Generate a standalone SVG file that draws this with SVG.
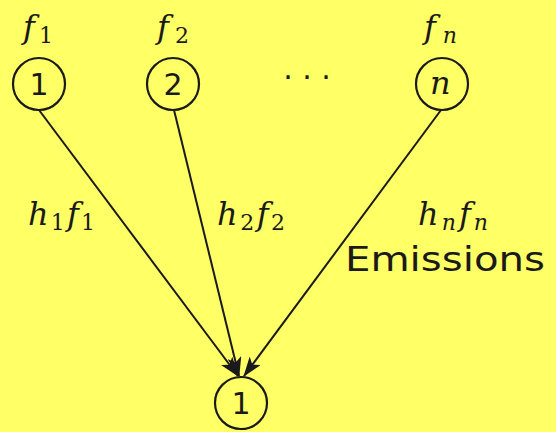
<svg xmlns="http://www.w3.org/2000/svg" width="556" height="432" viewBox="0 0 556 432">
<style>
.node{fill:none;stroke:#1a1a1a;stroke-width:2.2}
.num{font-family:"DejaVu Sans","Liberation Sans",sans-serif;font-size:30px;fill:#1a1a1a;text-anchor:middle}
.m{font-family:"DejaVu Serif","Liberation Serif",serif;font-style:italic;font-size:32px;fill:#1a1a1a}
.s{font-family:"DejaVu Serif","Liberation Serif",serif;font-style:normal;font-size:22px}
.si{font-family:"DejaVu Serif","Liberation Serif",serif;font-style:italic;font-size:22px}
.edge{stroke:#1a1a1a;stroke-width:2;fill:none;marker-end:url(#ah)}
.lbl{font-family:"DejaVu Sans","Liberation Sans",sans-serif;font-size:34px;fill:#1a1a1a}
</style>
<defs>
<marker id="ah" markerWidth="20" markerHeight="14" refX="19" refY="7" orient="auto" markerUnits="userSpaceOnUse">
<path d="M0,0 L20,7 L0,14 L5,7 Z" fill="#1a1a1a"/>
</marker>
</defs>
<rect width="556" height="432" fill="#ffff66"/>
<g id="n1"><circle class="node" cx="39" cy="84" r="26"/><text class="num" x="39" y="95">1</text><text class="m" x="23" y="38" textLength="30" lengthAdjust="spacing">f<tspan class="s" dy="5">1</tspan></text></g>
<g id="n2"><circle class="node" cx="173" cy="84" r="26"/><text class="num" x="173" y="95">2</text><text class="m" x="157" y="38" textLength="32" lengthAdjust="spacing">f<tspan class="s" dy="5">2</tspan></text></g>
<g id="dots"><text class="num" x="307" y="88">· · ·</text></g>
<g id="nn"><circle class="node" cx="442" cy="84" r="26"/><text class="m" x="430" y="94">n</text><text class="m" x="424" y="38" textLength="33" lengthAdjust="spacing">f<tspan class="si" dy="5">n</tspan></text></g>
<g id="out"><circle class="node" cx="241" cy="403" r="26"/><text class="num" x="241" y="414">1</text></g>
<g id="edges">
<line class="edge" x1="39" y1="110" x2="238" y2="376"/>
<line class="edge" x1="174" y1="110" x2="239" y2="376"/>
<line class="edge" x1="441" y1="110" x2="244" y2="376"/>
</g>
<g id="labels">
<text class="m" x="28" y="225" textLength="67" lengthAdjust="spacing">h<tspan class="s" dy="5">1</tspan><tspan dy="-5">f</tspan><tspan class="s" dy="5">1</tspan></text>
<text class="m" x="217" y="225" textLength="68" lengthAdjust="spacing">h<tspan class="s" dy="5">2</tspan><tspan dy="-5">f</tspan><tspan class="s" dy="5">2</tspan></text>
<text class="m" x="418" y="225" textLength="70" lengthAdjust="spacing">h<tspan class="si" dy="5">n</tspan><tspan dy="-5">f</tspan><tspan class="si" dy="5">n</tspan></text>
<text class="lbl" x="345" y="271" textLength="200" lengthAdjust="spacingAndGlyphs">Emissions</text>
</g>
</svg>
